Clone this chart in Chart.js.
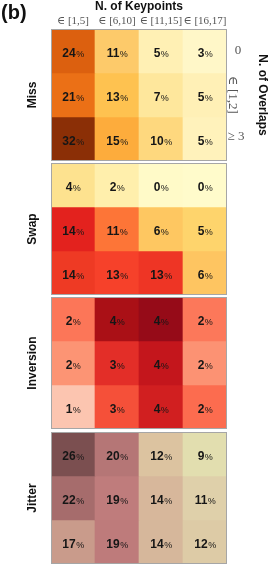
<!DOCTYPE html>
<html>
<head>
<meta charset="utf-8">
<script src="https://cdn.jsdelivr.net/npm/chart.js@4.4.1/dist/chart.umd.min.js"></script>
<style>
  html, body { margin: 0; padding: 0; background: #fff; }
  #wrap { position: relative; width: 278px; height: 565px; overflow: hidden; }
  #wrap canvas { position: absolute; left: 0; }
</style>
</head>
<body>
<div id="wrap">
  <canvas id="missChart" width="278" height="163" style="top:0"></canvas>
  <canvas id="swapChart" width="278" height="136" style="top:161px"></canvas>
  <canvas id="inversionChart" width="278" height="136" style="top:295px"></canvas>
  <canvas id="jitterChart" width="278" height="135" style="top:430px"></canvas>
</div>
<script>
// カテゴリ
const keypointBins = ['∈ [1,5]', '∈ [6,10]', '∈ [11,15]', '∈ [16,17]'];
const overlapBins = ['0', '∈ [1,2]', '≥ 3'];
const errorTypes = ['Miss', 'Swap', 'Inversion', 'Jitter'];

// 値 (%), 行 = overlaps, 列 = keypoints
const missValues = [[24, 11, 5, 3], [21, 13, 7, 5], [32, 15, 10, 5]];
const swapValues = [[4, 2, 0, 0], [14, 11, 6, 5], [14, 13, 13, 6]];
const inversionValues = [[2, 4, 4, 2], [2, 3, 4, 2], [1, 3, 4, 2]];
const jitterValues = [[26, 20, 12, 9], [22, 19, 14, 11], [17, 19, 14, 12]];

// セルの色
const missColors = [
  ['#dc600f', '#fdca6a', '#fff0b4', '#fff7c8'],
  ['#eb7016', '#fec250', '#fee79c', '#fff0b6'],
  ['#8b2f06', '#fdac3c', '#fed87e', '#fff2bb']
];
const swapColors = [
  ['#fde28f', '#ffefac', '#fffac8', '#fffbcb'],
  ['#e3221e', '#fd7537', '#fec761', '#fed46c'],
  ['#ee3a24', '#f6412a', '#ee3525', '#fec561']
];
const inversionColors = [
  ['#fc7658', '#aa1016', '#960b18', '#fc785a'],
  ['#fc9474', '#e32e28', '#c4161c', '#fc9273'],
  ['#fcc5b0', '#f55039', '#d11f20', '#fc6c4f']
];
const jitterColors = [
  ['#7b4f50', '#b57676', '#dcc3a0', '#e2deaf'],
  ['#a66c6c', '#bf7c7c', '#d7b79b', '#dfd0aa'],
  ['#c99b8b', '#be7b7b', '#d6b79b', '#ddcba6']
];

Chart.defaults.font.family = '"Liberation Sans", Arial, sans-serif';
Chart.defaults.color = '#111';
Chart.defaults.animation = false;

const SERIF = '"Liberation Serif", "DejaVu Serif", serif';

// セル内の数値と枠線
const cellPlugin = {
  id: 'cells',
  afterDatasetsDraw(chart) {
    const ctx = chart.ctx;
    ctx.save();
    chart.data.datasets.forEach((ds, i) => {
      const meta = chart.getDatasetMeta(i);
      meta.data.forEach((bar, j) => {
        const c = bar.getCenterPoint();
        const num = String(ds.pct[j]);
        ctx.font = 'bold 12px "Liberation Sans", Arial';
        const w1 = ctx.measureText(num).width;
        ctx.font = '9px "Liberation Sans", Arial';
        const w2 = ctx.measureText('%').width;
        const x0 = c.x - (w1 + w2) / 2;
        ctx.fillStyle = '#161616';
        ctx.textBaseline = 'alphabetic';
        ctx.textAlign = 'left';
        ctx.font = 'bold 12px "Liberation Sans", Arial';
        ctx.fillText(num, x0, c.y + 5.5);
        ctx.font = '9px "Liberation Sans", Arial';
        ctx.fillText('%', x0 + w1 + 0.5, c.y + 5.5);
      });
    });
    const a = chart.chartArea;
    ctx.strokeStyle = '#a6a6a6';
    ctx.lineWidth = 1;
    ctx.strokeRect(a.left + 0.5, a.top + 0.5, a.right - a.left - 1, a.bottom - a.top - 1);
    ctx.restore();
  }
};

// 右側の行ラベルと (b)
const headerPlugin = {
  id: 'header',
  afterDraw(chart) {
    const ctx = chart.ctx;
    const y = chart.scales.y;
    ctx.save();
    ctx.fillStyle = '#111';
    ctx.font = 'bold 20px "Liberation Sans", Arial';
    ctx.textAlign = 'left';
    ctx.textBaseline = 'alphabetic';
    ctx.fillText('(b)', 1, 19);

    ctx.fillStyle = '#555';
    ctx.font = '13px ' + SERIF;
    ctx.textAlign = 'center';
    ctx.textBaseline = 'middle';
    ctx.fillText(overlapBins[0], 238, y.getPixelForValue(0.5));
    ctx.save();
    ctx.translate(232, y.getPixelForValue(1.5));
    ctx.rotate(Math.PI / 2);
    ctx.fillText(overlapBins[1], 0, 0);
    ctx.restore();
    ctx.fillText(overlapBins[2], 236, y.getPixelForValue(2.5) - 2);
    ctx.restore();
  }
};

function makePanel(id, name, values, colors, first, padTop, padBottom) {
  const datasets = values.map((row, r) => ({
    label: overlapBins[r],
    data: keypointBins.map(() => [r, r + 1]),
    pct: row,
    backgroundColor: colors[r],
    borderWidth: 0,
    grouped: false,
    barPercentage: 1,
    categoryPercentage: 1
  }));

  const scales = {
    x: {
      type: 'category',
      position: 'top',
      display: first,
      grid: { display: false, drawTicks: false },
      border: { display: false },
      ticks: {
        autoSkip: false, maxRotation: 0, minRotation: 0, padding: 1,
        color: '#555', font: { family: SERIF, size: 11 }
      },
      title: {
        display: true, text: 'N. of Keypoints', color: '#111',
        font: { weight: 'bold', size: 12 }, padding: { top: -1, bottom: 0 }
      },
      afterFit: s => { if (first) s.height = 29; }
    },
    y: {
      type: 'linear',
      min: 0, max: 3, reverse: true,
      grid: { display: false, drawTicks: false },
      border: { display: false },
      ticks: { display: false },
      title: {
        display: true, text: name, color: '#111',
        font: { weight: 'bold', size: 12 }, padding: { top: 5.8, bottom: 0 }
      },
      afterFit: s => { s.width = 31; }
    }
  };
  if (first) {
    scales.y2 = {
      type: 'linear', position: 'right', min: 0, max: 3,
      grid: { display: false, drawTicks: false },
      border: { display: false },
      ticks: { display: false },
      title: {
        display: true, text: 'N. of Overlaps', color: '#111',
        font: { weight: 'bold', size: 12 }, padding: { top: 8.8, bottom: 0 }
      },
      afterFit: s => { s.width = 51; }
    };
  }

  return new Chart(document.getElementById(id), {
    type: 'bar',
    data: { labels: keypointBins, datasets },
    options: {
      responsive: false,
      devicePixelRatio: 1,
      layout: { padding: { left: 20, right: first ? 0 : 51, top: padTop, bottom: padBottom } },
      plugins: { legend: { display: false }, tooltip: { enabled: false } },
      scales
    },
    plugins: first ? [cellPlugin, headerPlugin] : [cellPlugin]
  });
}

makePanel('missChart', errorTypes[0], missValues, missColors, true, 0, 2);
makePanel('swapChart', errorTypes[1], swapValues, swapColors, false, 2, 2);
makePanel('inversionChart', errorTypes[2], inversionValues, inversionColors, false, 2, 2);
makePanel('jitterChart', errorTypes[3], jitterValues, jitterColors, false, 2, 1);
</script>
</body>
</html>
